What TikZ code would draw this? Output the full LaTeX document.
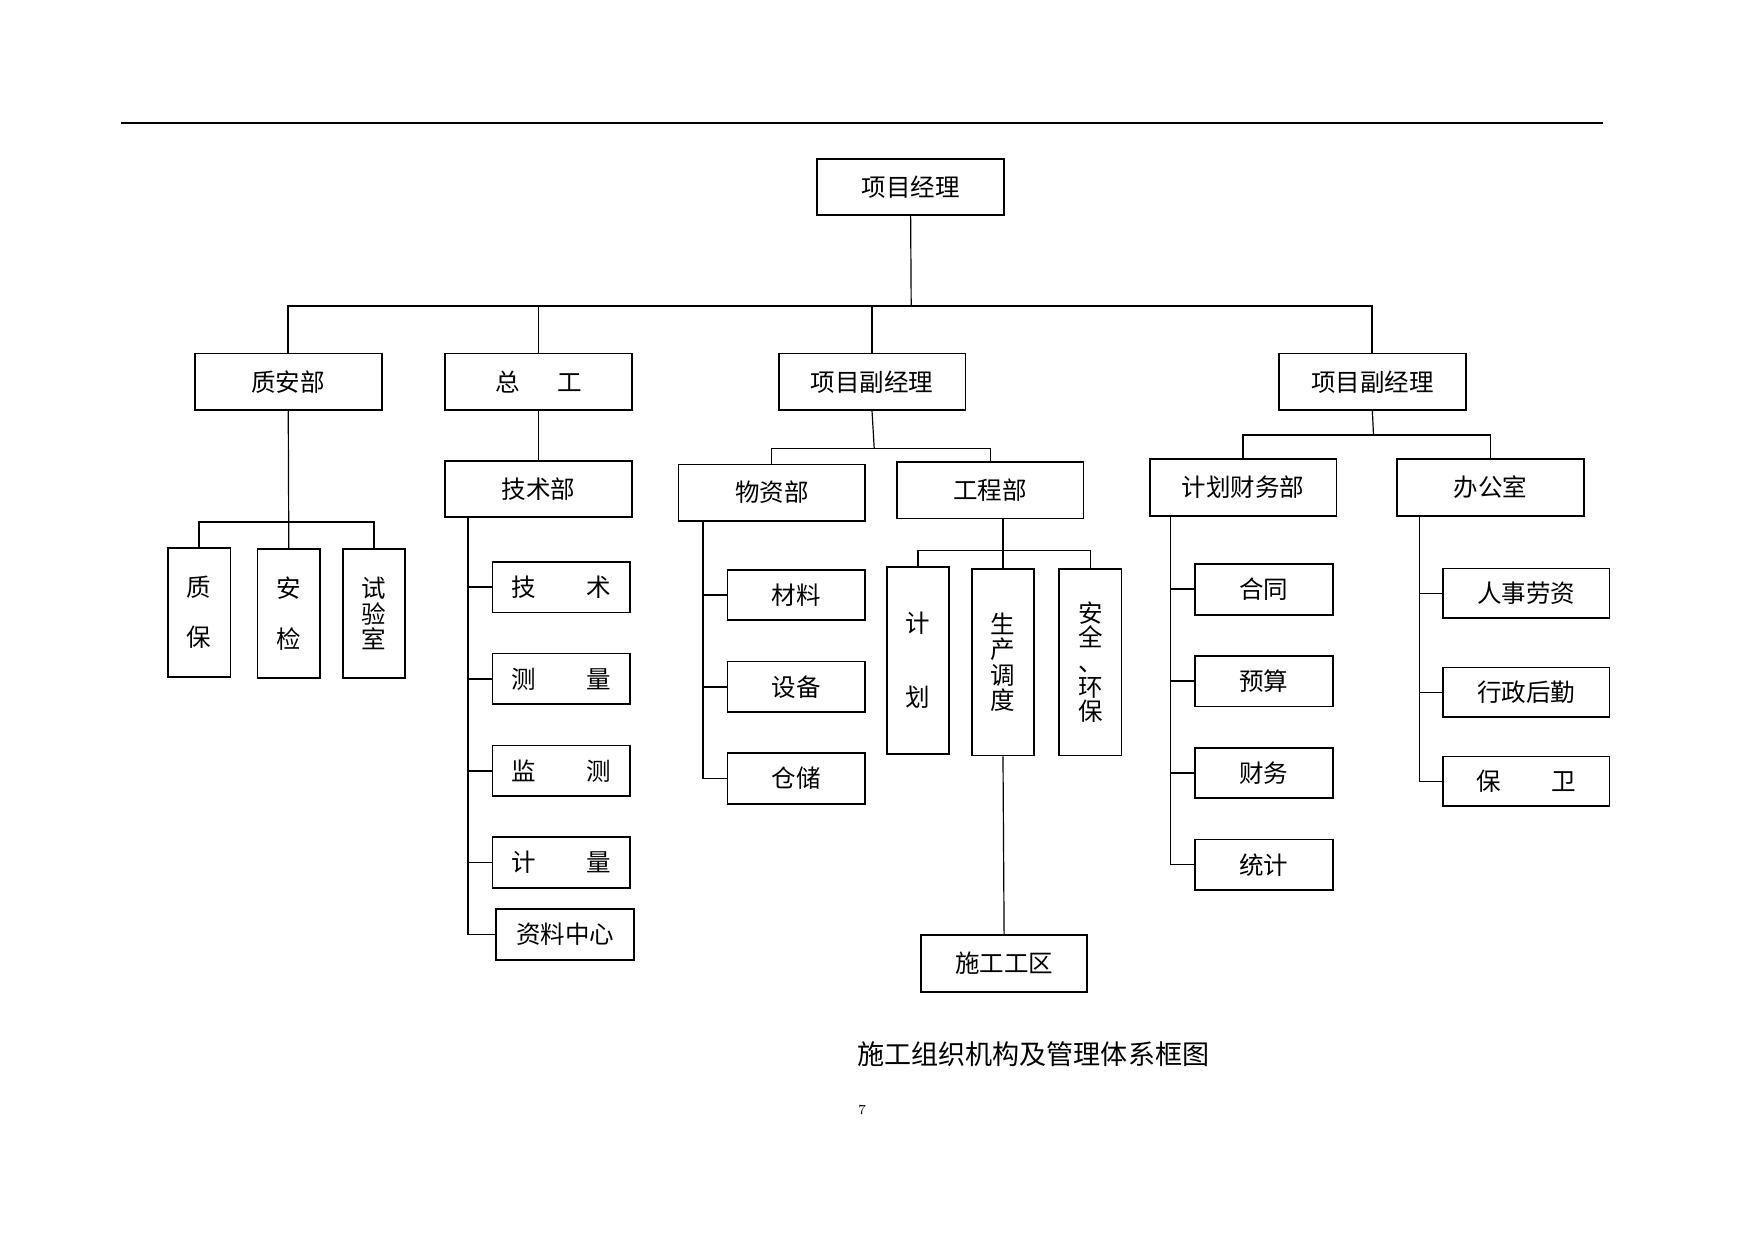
\documentclass[tikz,border=0pt]{standalone}
\usepackage{fontspec}
\newfontfamily\cjk{Noto Sans CJK SC}
\usepackage{tikz}
\usetikzlibrary{positioning}

\begin{document}
\begin{tikzpicture}[
    x=0.0199cm, y=-0.0199cm,
    font=\cjk\fontsize{12.4}{14}\selectfont,
    node distance = 0.7cm and 1cm,
    box/.style = {rectangle, draw=black, line width=0.9pt, fill=white,
                  minimum width=3.32cm, minimum height=1cm, inner sep=0pt, align=center},
    item/.style = {box, minimum width=2.45cm, minimum height=0.9cm},
    wideitem/.style = {box, minimum width=2.96cm, minimum height=0.88cm},
    column/.style = {box, minimum width=1.11cm, minimum height=2.29cm},
    longcolumn/.style = {box, minimum width=1.11cm, minimum height=3.32cm},
    link/.style = {draw=black, line width=0.6pt},
    bus/.style = {draw=black, line width=1pt}
]
\useasboundingbox (0,0) rectangle (1567.8,1108.5);

% Header rule
\draw[line width=1.2pt] (108,110) -- (1432,110);

% Project manager
\node[box] (pm) at (813.5,167) {项目经理};

% Second level
\node[box] (zab) at (257.5,341) {质安部};
\node[box] (zg) at (481,341) {总\hspace{18.9pt}工};
\node[box] (fpm1) at (779,341) {项目副经理};
\node[box] (fpm2) at (1226,341) {项目副经理};

% Quality and safety
\node[column] (zb) at (178,547) {质\\[11.6pt]保};
\node[column] (aj) at (258,548) {安\\[11.6pt]检};
\node[column] (sys) at (334,548) {试\\[-1pt]验\\[-1pt]室};

% Chief engineer
\node[box] (jsb) at (481,437) {技术部};
\node[item] (js1) at (501.5,524.5) {技\hspace{25.6pt}术};
\node[item, below=of js1] (js2) {测\hspace{25.6pt}量};
\node[item, below=of js2] (js3) {监\hspace{25.6pt}测};
\node[item, below=of js3] (js4) {计\hspace{25.6pt}量};
\node[item] (js5) at (505,835) {资料中心};

% Materials
\node[box] (wzb) at (689.5,440) {物资部};
\node[item] (wz1) at (711.5,531.5) {材料};
\node[item, below=of wz1] (wz2) {设备};
\node[item, below=of wz2] (wz3) {仓储};

% Engineering
\node[box] (gcb) at (884.5,438) {工程部};
\node[longcolumn] (jh) at (820,590) {计\\[23.5pt]划};
\node[longcolumn] (scdd) at (896,591.5) {生\\[-1.1pt]产\\[-1.1pt]调\\[-1.1pt]度};
\node[longcolumn] (aqhb) at (974,591.5) {安\\[-1.5pt]全\\[-1.5pt]、\\[-1.5pt]环\\[-1.5pt]保};
\node[box, minimum width=2.95cm, minimum height=1.01cm] (sggq) at (897,860.5) {施工工区};

% Planning and finance
\node[box] (cwb) at (1110.5,435.5) {计划财务部};
\node[item] (cw1) at (1129,526.5) {合同};
\node[item, below=of cw1] (cw2) {预算};
\node[item, below=of cw2] (cw3) {财务};
\node[item, below=of cw3] (cw4) {统计};

% Office
\node[box] (bgs) at (1331.5,435.5) {办公室};
\node[wideitem] (bg1) at (1363.5,530) {人事劳资};
\node[wideitem] (bg2) at (1363.5,618.5) {行政后勤};
\node[wideitem] (bg3) at (1363.5,698) {保\hspace{25.6pt}卫};

% Bus points and spines
\coordinate (bus1) at (814,273);
\coordinate (bus2) at (258,466);
\coordinate (bus3) at (781,401);
\coordinate (bus4) at (896,492);
\coordinate (bus5) at (1227,389);
\coordinate (jspine) at (418,462);
\coordinate (wspine) at (628,465);
\coordinate (cspine) at (1046,461);
\coordinate (bspine) at (1268,461);

% Lines
\draw[link] (pm.south) -- (bus1);
\draw[bus] (zab.north) |- (bus1) -| (fpm2.north);
\draw[link] (zg.north) -- (zg.north |- bus1);
\draw[link] (fpm1.north) -- (fpm1.north |- bus1);

\draw[link] (zab.south) -- (aj.north);
\draw[bus] (zb.north) |- (bus2) -| (sys.north);

\draw[link] (zg.south) -- (jsb.north);
\draw[link] (jspine) |- (js5.west);
\foreach \n in {1,...,4}
    \draw[bus] (jspine |- js\n.west) -- (js\n.west);

\draw[link] (fpm1.south) -- (bus3);
\draw[link] (wzb.north) |- (bus3) -| (gcb.north);
\draw[link] (wspine) |- (wz3.west);
\foreach \n in {1,2}
    \draw[bus] (wspine |- wz\n.west) -- (wz\n.west);

\draw[bus] (scdd.north |- gcb.south) -- (scdd.north);
\draw[link] (jh.north) |- (bus4) -| (aqhb.north);
\draw[link] (scdd.south) -- (sggq.north);

\draw[link] (fpm2.south) -- (bus5);
\draw[bus] (cwb.north) |- (bus5) -| (bgs.north);
\draw[link] (cspine) |- (cw4.west);
\foreach \n in {1,...,3}
    \draw[bus] (cspine |- cw\n.west) -- (cw\n.west);
\draw[link] (bspine) |- (bg3.west);
\foreach \n in {1,2}
    \draw[link] (bspine |- bg\n.west) -- (bg\n.west);

% Caption
\node[font=\cjk\fontsize{13.7}{16}\selectfont] (title) at (923,942) {施工组织机构及管理体系框图};
\node[font=\fontsize{7}{8}\selectfont] (page) at (770,992) {7};

\end{tikzpicture}
\end{document}
